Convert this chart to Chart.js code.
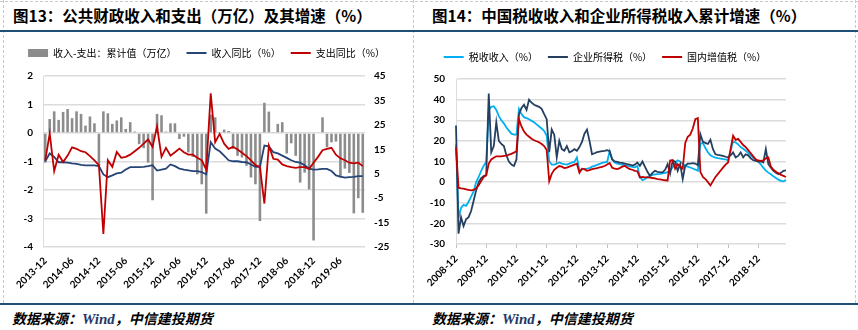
<!DOCTYPE html>
<html>
<head>
<meta charset="utf-8">
<script src="https://cdn.jsdelivr.net/npm/chart.js@4.4.1/dist/chart.umd.min.js"></script>
<style>
  body { margin: 0; background: #fff; width: 858px; height: 330px; overflow: hidden; position: relative;
         font-family: "Noto Sans CJK SC", sans-serif; }
  .title { position: absolute; top: 5px; font-weight: bold; font-size: 15.5px; line-height: 20px; color: #000; white-space: nowrap; }
  .src { position: absolute; top: 309px; font-weight: bold; font-style: italic; font-size: 14px; line-height: 18px; color: #000; white-space: nowrap; }
  .src .w { font-family: "Liberation Serif", serif; color: #1f3864; font-size: 15px; }
  .rule { position: absolute; left: 0; width: 858px; height: 2px; background: #1f4e79; }
  .vdash { position: absolute; top: 0; height: 303px; border-left: 1px dashed #c8c8c8; }
  .hdash { position: absolute; left: 0; top: 1px; width: 858px; border-top: 1px dashed #c8c8c8; }
  .box { position: absolute; top: 36px; }
</style>
</head>
<body>
<div class="hdash"></div>
<div class="vdash" style="left:3px"></div>
<div class="vdash" style="left:413px"></div>
<div class="vdash" style="left:855px"></div>
<div class="title" style="left:13px">图13：公共财政收入和支出（万亿）及其增速（%）</div>
<div class="title" style="left:432px">图14：中国税收收入和企业所得税收入累计增速（%）</div>
<div class="rule" style="top:30px"></div>
<div class="rule" style="top:303px"></div>
<div class="src" style="left:12px">数据来源：<span class="w">Wind</span>，中信建投期货</div>
<div class="src" style="left:432px">数据来源：<span class="w">Wind</span>，中信建投期货</div>

<div class="box" style="left:0px"><canvas id="fiscal" width="413" height="266"></canvas></div>
<div class="box" style="left:424px"><canvas id="tax" width="434" height="266"></canvas></div>

<script>
// ---- 月份标签 ----
function monthLabels(year, month, count) {
    const out = [];
    for (let k = 0; k < count; k++) {
        out.push(year + '-' + String(month).padStart(2, '0'));
        month++;
        if (month > 12) { month = 1; year++; }
    }
    return out;
}

// ---- 图13 数据：2013-12 至 2019-11 ----
const fiscalMonths = monthLabels(2013, 12, 72);
const fiscalTicks = ['2013-12', '2014-06', '2014-12', '2015-06', '2015-12', '2016-06',
                     '2016-12', '2017-06', '2017-12', '2018-06', '2018-12', '2019-06'];
// 收入-支出：累计值（万亿）
const balance = [
    -1.04, 0.49, 0.76, 0.46, 0.74, 0.84, 0.52, 0.76, 0.67, 0.26, 0.58, 0.34, -1.15,
    0.76, 0.69, 0.32, 0.44, 0.55, 0.14, 0.38, 0.05, -0.39, -0.53, -1.04, -2.36,
    0.67, 0.62, 0.05, 0.34, 0.34, -0.21, -0.13, -0.68, -0.84, -1.45, -1.8, -2.83,
    0.64, 0.55, 0.02, 0.12, 0.07, -0.56, -0.8, -0.86, -1.15, -1.56, -1.8, -3.09,
    1.06, 0.75, 0.02, 0.32, 0.38, -0.72, -0.36, -0.8, -1.74, -1.39, -1.98, -3.77,
    null, 0.55, -0.5, -0.33, -0.3, -1.56, -1.25, -1.4, -2.82, -2.29, -2.8
];
// 收入同比（%）
const revenueYoY = [
    10.1, 13.3, 11.9, 9.7, 9.7, 9.5, 9.2, 9.0, 8.6, 8.4, 8.4, 8.4, 8.1,
    4.7, 3.6, 4.3, 5.1, 5.4, 6.7, 7.7, 7.7, 7.7, 7.8, 8.1, 8.5,
    6.3, 6.7, 7.1, 8.8, 8.1, 7.1, 6.7, 6.4, 6.1, 6.1, 5.7, 4.7,
    17.9, 15.3, 14.2, 12.4, 10.5, 10.1, 10.1, 9.8, 9.7, 8.8, 7.8, 7.8,
    16.5, 16.2, 13.8, 13.3, 12.4, 11.5, 10.5, 9.8, 9.5, 8.5, 7.1, 6.7,
    6.8, 7.0, 7.0, 6.1, 4.3, 3.8, 3.4, 3.6, 3.7, 4.0, 4.0
];
// 支出同比（%）
const spendingYoY = [
    10.5, 21.4, 6.1, 12.8, 9.8, 12.4, 15.8, 15.2, 14.2, 13.8, 12.2, 10.5, 8.5,
    -19.7, 10.5, 7.8, 13.9, 11.5, 11.9, 12.8, 14.2, 15.6, 17.3, 19.0, 16.0,
    24.4, 11.9, 15.6, 12.4, 13.8, 15.3, 13.8, 12.8, 12.8, 11.5, 10.5, 6.7,
    37.9, 17.9, 21.3, 17.3, 15.2, 16.0, 14.9, 13.6, 12.2, 10.5, 8.5, 7.8,
    -7.2, 16.5, 11.1, 10.8, 8.8, 8.1, 7.7, 7.4, 7.7, 7.7, 7.0, 9.5,
    11.9, 14.6, 15.2, 15.6, 12.8, 11.3, 10.5, 9.5, 9.2, 9.5, 8.1
];

// ---- 图14 数据：2008-12 至 2019-11 ----
const taxMonths = monthLabels(2008, 12, 132);
const taxTicks = ['2008-12', '2009-12', '2010-12', '2011-12', '2012-12', '2013-12',
                  '2014-12', '2015-12', '2016-12', '2017-12', '2018-12'];
// 税收收入（%）
const taxRevenue = [
    18.3, -17.3, -12.5, -11, -11.5, -9.5, -7, -4.5, 0, 2.5, 5.5, 8, 9.8,
    35, 36.5, 36.8, 35, 32, 30, 28.5, 26.5, 25, 23.5, 23, 23,
    35.5, 33, 31.5, 31, 30.5, 29.7, 29, 28, 27, 26, 24.8, 22.6,
    10, 8.5, 8.5, 9, 9.5, 9, 8.7, 8.5, 9, 9.5, 9.8, 12,
    5.5, 6.2, 6.3, 6.5, 6.8, 7.5, 7.9, 8.4, 8.8, 9.3, 9.6, 9.8,
    15, 11, 9.5, 9, 8.7, 8.5, 8.1, 7.9, 7.6, 7.4, 7.2, 7.8,
    2.5, 1, 1.5, 2.5, 3, 3.5, 3.8, 3.9, 4, 4.2, 4.5, 4.8,
    5.8, 7.1, 9, 10.6, 10, 9, 7.9, 7.5, 7.1, 6.6, 6.1, 5.5,
    18.5, 19, 16.5, 14.5, 13, 12.3, 11.9, 11.6, 11.4, 11.2, 11, 10.7,
    15, 19.8, 19.2, 18.3, 17, 16.2, 15.2, 14.2, 13, 11.8, 10.8, 9.8,
    8.6, 7, 5.6, 4.6, 3.8, 2.8, 2, 1.2, 0.6, 0.4, 1
];
// 企业所得税（%）
const corpIncomeTax = [
    27.5, -25, -17, -21.3, -18, -17, -14, -9, -4, 0, 2, 3, 3.5,
    43, 14.5, 17.5, 29, 20, 18.5, 17.5, 13, 10, 8.5, 7.8, 11,
    33, 36, 37.5, 35, 40, 38.5, 37.5, 37, 36.5, 35.5, 33, 30.5,
    14.5, 25.5, 23, 12, 20, 16, 15.2, 17.5, 14.5, 15, 16, 15.2,
    17, 19.5, 23.5, 25.5, 20, 13.5, 14, 14.5, 14.8, 15, 15.2, 15.5,
    15, 11, 10, 9.8, 9.5, 9.3, 9, 8.7, 8.5, 8, 8.5, 9.5,
    7.9, 10, 7.5, 5, 3, 4.5, 5.5, 5, 4.8, 4.7, 6, 8.7,
    4.2, 10.3, 10, 5.5, 8.7, 1.5, 7.9, 9, 9, 9.2, 9, 8.2,
    23.2, 19.5, 19, 18.5, 20.5, 16, 13.5, 13.2, 13, 12.7, 12.3, 12,
    13, 14.4, 12, 12.7, 14.4, 12, 13.5, 13, 11.5, 10.6, 10.3, 10,
    10, 9.5, 16, 8.7, 7, 5.5, 4.5, 3.8, 4.5, 5.5, 5.7
];
// 国内增值税（%）
const domesticVAT = [
    16.8, -2.7, -3, -3.2, -3.5, -3.8, -4, -3.8, -3, -1.5, 0.5, 2.5, 3.2,
    9, 11, 11.8, 12.5, 12.5, 12.5, 12.7, 12.8, 13.3, 13.7, 14.3, 15,
    30.4, 27, 24.5, 23, 22, 21, 20.3, 19.8, 19.3, 18.5, 17.5, 15.6,
    0.5, 4, 6, 7, 7.8, 7.5, 6.8, 7, 7.5, 8, 8.5, 8.9,
    4.5, 6.5, 6.3, 5.5, 5.8, 6.3, 6.6, 6.8, 7.1, 7.4, 7.8, 8.5,
    9.3, 7, 6.5, 6.3, 6.8, 7.5, 7.9, 7, 6.3, 6, 5.5, 5.3,
    2.3, 2.5, 2.3, 2.3, 2.2, 2, 1.8, 1.5, 1.3, 1.1, 0.9, 0.8,
    10.5, 10.7, 6.5, 8.7, 7.5, 6.5, 19, 22, 23, 26, 30.5, 31,
    5, 2.5, 1.5, 0, -1.6, 0.5, 2.5, 4, 5.5, 7, 8.5, 9.5,
    16, 22.5, 20.5, 21, 19.5, 18, 17, 15.5, 14, 12.5, 11, 10.5,
    10.3, 10.5, 11.5, 12, 7.5, 6, 5, 4.3, 3.5, 3, 2.5
];

// ---- 公共样式 ----
const tickFont = { family: 'Lato, "Liberation Sans", sans-serif', size: 10, weight: 'bold' };
const legendFont = { family: '"Noto Sans CJK SC", sans-serif', size: 10 };
const gridColor = '#dcdcdc';

// 图例与绘图区之间留空
const legendGap = {
    id: 'legendGap',
    beforeInit(chart) {
        const fit = chart.legend.fit;
        chart.legend.fit = function () {
            fit.bind(chart.legend)();
            this.height += chart.options.plugins.legendGap.extra;
        };
    }
};

function legendLabels() {
    return {
        usePointStyle: true,
        pointStyleWidth: 20,
        boxHeight: 8,
        padding: 10,
        color: '#000',
        font: legendFont,
        generateLabels(chart) {
            const items = Chart.defaults.plugins.legend.labels.generateLabels(chart);
            items.forEach(it => {
                const ds = chart.data.datasets[it.datasetIndex];
                if (ds.type === 'bar') {
                    it.pointStyle = 'rect';
                } else {
                    it.pointStyle = 'line';
                    it.lineWidth = 2;
                    it.strokeStyle = ds.borderColor;
                }
            });
            return items;
        },
        sort: (a, b) => a.datasetIndex - b.datasetIndex
    };
}

// ---- 图13 ----
new Chart(document.getElementById('fiscal'), {
    type: 'bar',
    data: {
        labels: fiscalMonths,
        datasets: [
            { type: 'bar', label: '收入-支出：累计值（万亿）', data: balance, yAxisID: 'y',
              backgroundColor: '#8c8c8c', barPercentage: 0.58, categoryPercentage: 1, order: 3 },
            { type: 'line', label: '收入同比（%）', data: revenueYoY, yAxisID: 'y2',
              borderColor: '#264478', borderWidth: 1.8, pointRadius: 0, tension: 0, order: 2 },
            { type: 'line', label: '支出同比（%）', data: spendingYoY, yAxisID: 'y2',
              borderColor: '#c00000', borderWidth: 1.8, pointRadius: 0, tension: 0, order: 1 }
        ]
    },
    options: {
        responsive: false,
        animation: false,
        events: [],
        layout: { padding: { top: 2, left: 0, right: 0, bottom: 0 } },
        plugins: {
            legend: { position: 'top', labels: legendLabels() },
            legendGap: { extra: 8 },
            tooltip: { enabled: false }
        },
        scales: {
            x: {
                offset: true,
                grid: { display: false, drawTicks: false, tickLength: 0 },
                border: { display: false },
                ticks: {
                    autoSkip: false, minRotation: 45, maxRotation: 45, padding: 8,
                    color: '#000', font: tickFont,
                    callback: (v, i) => fiscalTicks.includes(fiscalMonths[i]) ? fiscalMonths[i] : ''
                },
                afterFit(s) { s.height = 55; s.paddingLeft = 0; s.paddingRight = 0; }
            },
            y: {
                position: 'left', min: -4, max: 2,
                ticks: { stepSize: 1, color: '#000', font: tickFont, padding: 10 },
                grid: { color: gridColor, lineWidth: 1.5, drawTicks: false },
                border: { display: true, color: gridColor },
                afterFit(s) { s.width = 43; }
            },
            y2: {
                position: 'right', min: -25, max: 45,
                ticks: { stepSize: 10, color: '#000', font: tickFont, padding: 9 },
                grid: { display: false, drawTicks: false },
                border: { display: false },
                afterFit(s) { s.width = 48; }
            }
        }
    },
    plugins: [legendGap]
});

// ---- 图14 ----
new Chart(document.getElementById('tax'), {
    type: 'line',
    data: {
        labels: taxMonths,
        datasets: [
            { label: '税收收入（%）', data: taxRevenue, borderColor: '#00b0f0',
              borderWidth: 1.8, pointRadius: 0, tension: 0, order: 3 },
            { label: '企业所得税（%）', data: corpIncomeTax, borderColor: '#243f60',
              borderWidth: 1.8, pointRadius: 0, tension: 0, order: 2 },
            { label: '国内增值税（%）', data: domesticVAT, borderColor: '#c00000',
              borderWidth: 1.8, pointRadius: 0, tension: 0, order: 1 }
        ]
    },
    options: {
        responsive: false,
        animation: false,
        events: [],
        layout: { padding: { top: 6, left: 0, right: 72, bottom: 0 } },
        plugins: {
            legend: { position: 'top', labels: legendLabels() },
            legendGap: { extra: 7 },
            tooltip: { enabled: false }
        },
        scales: {
            x: {
                offset: false,
                grid: {
                    drawOnChartArea: false, drawTicks: true, tickLength: 4, lineWidth: 1,
                    color: ctx => taxTicks.includes(taxMonths[ctx.index]) ? '#bfbfbf' : 'rgba(0,0,0,0)'
                },
                border: { display: false },
                ticks: {
                    autoSkip: false, minRotation: 45, maxRotation: 45, padding: 5,
                    color: '#000', font: tickFont,
                    callback: (v, i) => taxTicks.includes(taxMonths[i]) ? taxMonths[i] : ''
                },
                afterFit(s) { s.height = 58; s.paddingLeft = 0; s.paddingRight = 0; }
            },
            y: {
                min: -30, max: 50,
                ticks: { stepSize: 10, color: '#000', font: tickFont, padding: 11 },
                grid: { color: gridColor, lineWidth: 1.5, drawTicks: false },
                border: { display: true, color: gridColor },
                afterFit(s) { s.width = 32; }
            }
        }
    },
    plugins: [legendGap]
});
</script>
</body>
</html>
